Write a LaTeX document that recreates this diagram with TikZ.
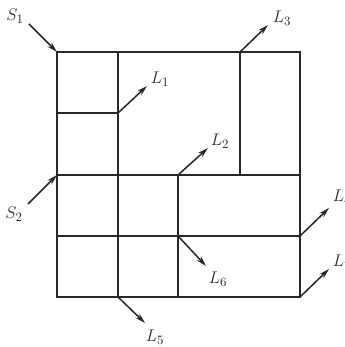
\documentclass[tikz,border=0pt]{standalone}
\usepackage{amsmath,amssymb}
\usepackage{tikz}
\usetikzlibrary{positioning,arrows.meta,calc}
\definecolor{ink}{RGB}{40,40,40}
\tikzset{
  wall/.style={draw=ink,line width=0.9pt},
  flow/.style={-{Stealth[length=9pt,width=5pt]},line width=1.3pt,draw=ink},
  lab/.style={inner sep=0pt,font=\fontsize{15}{17}\selectfont,text=ink},
}

\begin{document}
\begin{tikzpicture}[x=0.03cm,y=-0.03cm]
  \useasboundingbox (0,0) rectangle (344,347);
  % grid corners
  \coordinate (tl) at (57,52);
  \coordinate (br) at (300,297);
  \coordinate (m1) at (118,113);
  \coordinate (m2) at (178,175);
  \coordinate (m3) at (240,52);
  \coordinate (m4) at (300,236);
  \coordinate (m5) at (118,297);
  \coordinate (m6) at (178,236);
  \coordinate (m7) at (300,297);
  \coordinate (m8) at (57,175);
  % the walls
  \draw[wall] (tl) rectangle (br);
  \draw[wall] (118,52) -- (m5);
  \draw[wall] (57,113) -- (m1);
  \draw[wall] (m3) -- (240,175);
  \draw[wall] (m8) -- (300,175);
  \draw[wall] (57,236) -- (m4);
  \draw[wall] (m2) -- (178,297);
  % sources and loads
  \coordinate (s1t) at (29,24);
  \coordinate (s2t) at (28,204);
  \coordinate (l1h) at (147,86);
  \coordinate (l2h) at (208,148);
  \coordinate (l3h) at (268,25);
  \coordinate (l4h) at (329,208);
  \coordinate (l5h) at (145,323);
  \coordinate (l6h) at (206,266);
  \coordinate (l7h) at (329,269);
  \node[lab] (s1) at (15,16) {$S_1$};
  \node[lab] (s2) at (14,214) {$S_2$};
  \node[lab] (l1) at (160,79) {$L_1$};
  \node[lab] (l2) at (220,141) {$L_2$};
  \node[lab] (l3) at (282,18) {$L_3$};
  \node[lab] (l4) at (342,197) {$L_4$};
  \node[lab] (l5) at (155,337) {$L_5$};
  \node[lab] (l6) at (218,279) {$L_6$};
  \node[lab] (l7) at (342,262) {$L_7$};
  \draw[flow] (s1t) -- (tl);
  \draw[flow] (s2t) -- (m8);
  \draw[flow] (m1) -- (l1h);
  \draw[flow] (m2) -- (l2h);
  \draw[flow] (m3) -- (l3h);
  \draw[flow] (m4) -- (l4h);
  \draw[flow] (m5) -- (l5h);
  \draw[flow] (m6) -- (l6h);
  \draw[flow] (m7) -- (l7h);
\end{tikzpicture}
\end{document}
